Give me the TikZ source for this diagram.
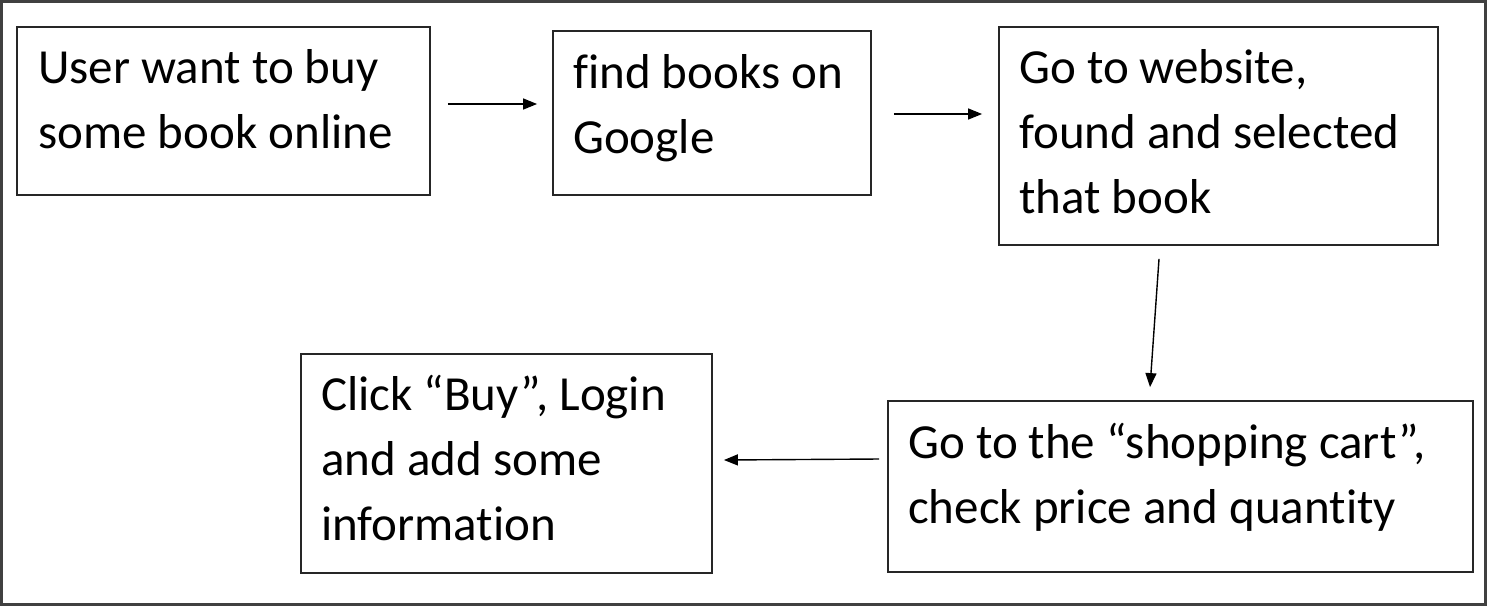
\documentclass[tikz,border=0pt]{standalone}
\usepackage{fontspec}
\setmainfont{Carlito}[Ligatures=NoCommon]
\usetikzlibrary{calc,arrows.meta}
\definecolor{frame}{HTML}{404040}
\definecolor{boxline}{HTML}{262626}
\begin{document}
\begin{tikzpicture}[x=1pt,y=-1pt,
  box/.style={draw=boxline,line width=1.8pt,rectangle,inner sep=0pt},
  txt/.style={anchor=base west,align=left,inner sep=0pt,font=\fontsize{49}{65}\selectfont},
  arr/.style={draw=black,line width=1.4pt,-{Triangle[length=14pt,width=11pt]}}]
\useasboundingbox (0,0) rectangle (1487,606);
\draw[frame,line width=3pt] (1.5,1.5) rectangle (1485.5,604.5);
% boxes
\node[box,minimum width=413,minimum height=168] (b1) at (223.5,111) {};
\node[box,minimum width=318,minimum height=164] (b2) at (712,113) {};
\node[box,minimum width=439,minimum height=218] (b3) at (1218.5,136) {};
\node[box,minimum width=585,minimum height=171] (b4) at (1180.5,486.5) {};
\node[box,minimum width=411,minimum height=219] (b5) at (506.5,463.5) {};
% texts (anchored at the baseline of the last line)
\node[txt] (t1) at (38,148) {User want to buy\\some book online};
\node[txt] (t2) at (573,153) {find books on\\Google};
\node[txt] (t3) at (1019,213) {Go to website,\\found and selected\\that book};
\node[txt] (t4) at (908,523) {Go to the “shopping cart”,\\check price and quantity};
\node[txt] (t5) at (321,540) {Click “Buy”, Login\\and add some\\information};
% arrows
\draw[arr] ($(b1.east)+(17,-7)$) -- ($(b2.west)+(-15,-9)$);
\draw[arr] ($(b2.east)+(22,1)$) -- ($(b3.west)+(-16,-22)$);
\draw[arr] ($(b3.south)+(-59.5,13)$) -- ($(b4.north)+(-30.5,-13)$);
\draw[arr] ($(b4.west)+(-8,-27.5)$) -- ($(b5.east)+(11,-3.5)$);
\end{tikzpicture}
\end{document}
